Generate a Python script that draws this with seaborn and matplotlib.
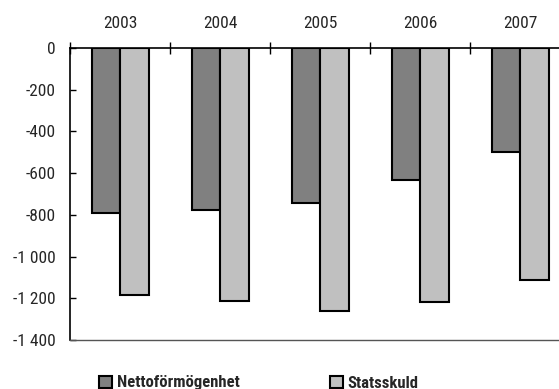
import matplotlib
matplotlib.use("Agg")
import matplotlib.pyplot as plt
from matplotlib.ticker import FixedLocator, FuncFormatter
from matplotlib.patches import Patch
import seaborn as sns
import pandas as pd

# Data (miljarder kronor)
years = ["2003", "2004", "2005", "2006", "2007"]
nettoformogenhet = [-790, -775, -745, -635, -500]
statsskuld = [-1185, -1212, -1263, -1218, -1112]
series_names = ["Nettoförmögenhet", "Statsskuld"]
y_ticks = [0, -200, -400, -600, -800, -1000, -1200, -1400]

df = pd.DataFrame({
    "År": years * 2,
    "Värde": nettoformogenhet + statsskuld,
    "Serie": [series_names[0]] * len(years) + [series_names[1]] * len(years),
})

sns.set_style("white")
plt.rcParams["font.family"] = ["Roboto Condensed", "DejaVu Sans"]
plt.rcParams["font.stretch"] = "condensed"

colors = ["#808080", "#c0c0c0"]

fig = plt.figure(figsize=(5.59, 3.89), dpi=100)
ax = fig.add_axes([70 / 559, 1 - 340 / 389, 500 / 559, 292 / 389])

sns.barplot(data=df, x="År", y="Värde", hue="Serie", palette=colors,
            width=0.57, gap=0, edgecolor="black", linewidth=1.5,
            errorbar=None, legend=False, ax=ax, zorder=2)

ax.set_ylim(-1400, 0)
ax.set_xlim(-0.5, len(years) - 0.5)
ax.set_xlabel("")
ax.set_ylabel("")

# Category labels across the top, group separators as crossing ticks
ax.xaxis.tick_top()
ax.set_xticks(range(len(years)))
ax.set_xticklabels(years, fontsize=12.5)
ax.tick_params(axis="x", which="major", length=0, pad=12)
ax.xaxis.set_minor_locator(FixedLocator([i - 0.5 for i in range(len(years) + 1)]))
ax.tick_params(axis="x", which="minor", top=True, bottom=False,
               direction="inout", length=8, width=1, color="black")

ax.yaxis.set_major_locator(FixedLocator(y_ticks))
ax.yaxis.set_major_formatter(FuncFormatter(lambda v, _: f"{int(v):,}".replace(",", " ")))
ax.tick_params(axis="y", direction="in", length=4, width=1, color="black",
               labelsize=12.5, pad=10, left=True)

for side in ["top", "left"]:
    ax.spines[side].set_visible(True)
    ax.spines[side].set_color("black")
    ax.spines[side].set_linewidth(1.2)
ax.spines["bottom"].set_color("#555555")
ax.spines["bottom"].set_linewidth(1.0)
ax.spines["right"].set_visible(False)
ax.grid(False)

handles = [Patch(facecolor=c, edgecolor="black", linewidth=1.5) for c in colors]
fig.legend(handles, series_names, loc="center left", bbox_to_anchor=(99 / 559, 1 - 383 / 389),
           ncol=2, frameon=False, borderpad=0, borderaxespad=0,
           handlelength=0.75, handleheight=0.75,
           handletextpad=0.3, columnspacing=5.45,
           prop={"weight": "bold", "size": 12})

fig.savefig("out.png", dpi=100)
